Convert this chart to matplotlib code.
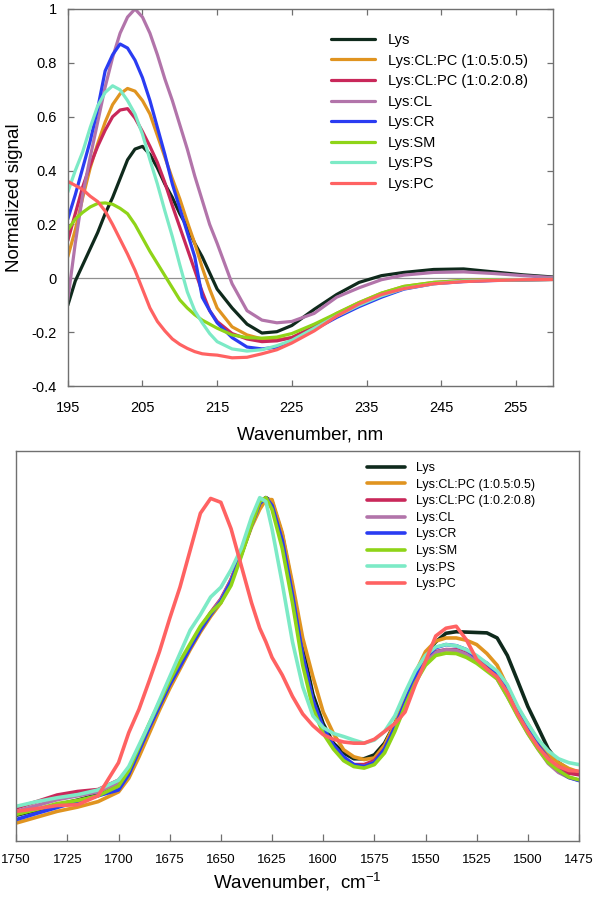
import numpy as np
import matplotlib
matplotlib.use('Agg')
import matplotlib.pyplot as plt

plt.rcParams['font.family'] = ['Liberation Sans', 'DejaVu Sans']
plt.rcParams['mathtext.default'] = 'regular'

labels = ['Lys', 'Lys:CL:PC (1:0.5:0.5)', 'Lys:CL:PC (1:0.2:0.8)', 'Lys:CL',
          'Lys:CR', 'Lys:SM', 'Lys:PS', 'Lys:PC']
colors = ['#0f2a1c', '#e09420', '#c9285a', '#b274aa',
          '#2a3cf2', '#8fd418', '#7ceac6', '#ff6262']

# --- CD spectra (top) ---
cd_nm = [195, 196, 197, 198, 199, 200, 201, 202, 203, 204, 205, 206, 207, 208, 209, 210,
         211, 212, 213, 214, 215, 217, 219, 221, 223, 225, 228, 231, 234, 237, 240,
         244, 248, 252, 256, 260]
cd_lys = [-0.10, -0.01, 0.05, 0.11, 0.17, 0.24, 0.30, 0.37, 0.44, 0.48, 0.49, 0.46, 0.41,
          0.35, 0.30, 0.24, 0.19, 0.13, 0.08, 0.02, -0.04, -0.11, -0.17, -0.203, -0.198,
          -0.175, -0.115, -0.06, -0.015, 0.01, 0.022, 0.033, 0.035, 0.024, 0.013, 0.005]
cd_clpc_55 = [0.08, 0.18, 0.30, 0.41, 0.50, 0.58, 0.645, 0.685, 0.705, 0.695, 0.66, 0.61,
              0.53, 0.45, 0.37, 0.295, 0.21, 0.13, 0.04, -0.04, -0.11, -0.18, -0.21, -0.225,
              -0.228, -0.22, -0.18, -0.13, -0.09, -0.055, -0.03, -0.015, -0.008, -0.006,
              -0.005, -0.004]
cd_clpc_28 = [0.14, 0.24, 0.34, 0.42, 0.49, 0.55, 0.60, 0.625, 0.63, 0.595, 0.545, 0.49,
              0.43, 0.355, 0.27, 0.19, 0.11, 0.03, -0.05, -0.12, -0.16, -0.205, -0.225,
              -0.235, -0.232, -0.22, -0.18, -0.135, -0.095, -0.06, -0.035, -0.018, -0.01,
              -0.007, -0.005, -0.004]
cd_cl = [-0.08, 0.13, 0.31, 0.45, 0.58, 0.71, 0.82, 0.91, 0.97, 1.0, 0.97, 0.91, 0.83,
         0.74, 0.66, 0.57, 0.48, 0.38, 0.29, 0.20, 0.13, -0.02, -0.12, -0.155, -0.165,
         -0.16, -0.13, -0.07, -0.035, -0.005, 0.012, 0.022, 0.024, 0.018, 0.01, 0.003]
cd_cr = [0.22, 0.31, 0.41, 0.51, 0.63, 0.77, 0.83, 0.87, 0.855, 0.81, 0.745, 0.66, 0.56,
         0.46, 0.35, 0.26, 0.17, 0.08, -0.07, -0.12, -0.165, -0.22, -0.255, -0.262,
         -0.255, -0.235, -0.19, -0.145, -0.105, -0.07, -0.04, -0.02, -0.012, -0.008,
         -0.006, -0.004]
cd_sm = [0.18, 0.22, 0.245, 0.265, 0.278, 0.28, 0.275, 0.26, 0.24, 0.20, 0.15, 0.10,
         0.055, 0.01, -0.035, -0.08, -0.11, -0.135, -0.155, -0.17, -0.185, -0.21, -0.22,
         -0.222, -0.218, -0.205, -0.17, -0.13, -0.09, -0.055, -0.03, -0.015, -0.008,
         -0.006, -0.005, -0.004]
cd_ps = [0.32, 0.40, 0.47, 0.56, 0.64, 0.69, 0.715, 0.70, 0.66, 0.61, 0.535, 0.44, 0.35,
         0.25, 0.155, 0.05, -0.05, -0.12, -0.165, -0.205, -0.235, -0.262, -0.27, -0.265,
         -0.25, -0.23, -0.185, -0.14, -0.10, -0.065, -0.038, -0.02, -0.01, -0.007,
         -0.005, -0.004]
cd_pc = [0.36, 0.345, 0.33, 0.305, 0.285, 0.25, 0.20, 0.145, 0.09, 0.03, -0.04, -0.11,
         -0.16, -0.195, -0.225, -0.245, -0.26, -0.272, -0.28, -0.283, -0.285, -0.295,
         -0.293, -0.28, -0.265, -0.24, -0.195, -0.14, -0.095, -0.06, -0.038, -0.02,
         -0.012, -0.008, -0.005, -0.004]

# --- IR amide I / II (bottom), normalised to axes height ---
ir_cm = [1750, 1740, 1730, 1720, 1710, 1700, 1695, 1690, 1685, 1680, 1675, 1670, 1665,
         1660, 1655, 1650, 1645, 1640, 1635, 1631, 1628, 1625, 1620, 1615, 1610, 1605,
         1600, 1595, 1590, 1585, 1580, 1575, 1570, 1565, 1560, 1555, 1550, 1545, 1540,
         1535, 1530, 1525, 1520, 1515, 1510, 1505, 1500, 1495, 1490, 1485, 1480, 1475]
ir_lys = [0.065, 0.078, 0.092, 0.104, 0.118, 0.14, 0.175, 0.23, 0.29, 0.345, 0.40, 0.447,
          0.495, 0.54, 0.58, 0.615, 0.665, 0.735, 0.81, 0.865, 0.88, 0.87, 0.785, 0.65,
          0.495, 0.375, 0.30, 0.25, 0.225, 0.21, 0.21, 0.22, 0.25, 0.30, 0.36, 0.425,
          0.48, 0.51, 0.532, 0.536, 0.535, 0.534, 0.533, 0.52, 0.475, 0.41, 0.344, 0.29,
          0.235, 0.20, 0.182, 0.175]
ir_clpc_55 = [0.045, 0.06, 0.075, 0.086, 0.10, 0.125, 0.16, 0.215, 0.275, 0.335, 0.39,
              0.44, 0.49, 0.535, 0.575, 0.61, 0.67, 0.735, 0.805, 0.85, 0.875, 0.875, 0.79,
              0.66, 0.52, 0.42, 0.33, 0.275, 0.233, 0.215, 0.208, 0.212, 0.245, 0.30, 0.36,
              0.43, 0.485, 0.512, 0.52, 0.52, 0.514, 0.503, 0.48, 0.45, 0.395, 0.34, 0.30,
              0.255, 0.22, 0.20, 0.185, 0.176]
ir_clpc_28 = [0.084, 0.10, 0.117, 0.126, 0.131, 0.155, 0.185, 0.235, 0.295, 0.35, 0.405,
              0.455, 0.50, 0.545, 0.585, 0.62, 0.67, 0.74, 0.815, 0.87, 0.88, 0.855, 0.765,
              0.625, 0.47, 0.355, 0.285, 0.24, 0.21, 0.195, 0.195, 0.205, 0.235, 0.29, 0.35,
              0.415, 0.46, 0.485, 0.49, 0.49, 0.48, 0.465, 0.445, 0.42, 0.375, 0.33, 0.28,
              0.24, 0.205, 0.185, 0.173, 0.169]
ir_cl = [0.075, 0.09, 0.105, 0.115, 0.125, 0.148, 0.18, 0.232, 0.292, 0.348, 0.403, 0.452,
         0.498, 0.543, 0.583, 0.618, 0.668, 0.738, 0.812, 0.868, 0.88, 0.857, 0.767, 0.628,
         0.472, 0.357, 0.286, 0.24, 0.208, 0.192, 0.19, 0.2, 0.232, 0.288, 0.35, 0.413,
         0.458, 0.483, 0.49, 0.488, 0.478, 0.462, 0.44, 0.415, 0.37, 0.322, 0.275, 0.235,
         0.198, 0.175, 0.162, 0.155]
ir_cr = [0.054, 0.07, 0.085, 0.10, 0.115, 0.13, 0.17, 0.23, 0.29, 0.345, 0.40, 0.447,
         0.495, 0.54, 0.58, 0.615, 0.665, 0.735, 0.81, 0.865, 0.88, 0.86, 0.77, 0.63,
         0.475, 0.36, 0.29, 0.245, 0.215, 0.195, 0.19, 0.20, 0.235, 0.29, 0.355, 0.42,
         0.47, 0.495, 0.503, 0.50, 0.49, 0.47, 0.455, 0.43, 0.385, 0.335, 0.285, 0.245,
         0.21, 0.18, 0.162, 0.154]
ir_sm = [0.067, 0.08, 0.095, 0.103, 0.115, 0.14, 0.18, 0.24, 0.30, 0.355, 0.41, 0.46,
         0.505, 0.55, 0.585, 0.61, 0.655, 0.73, 0.81, 0.87, 0.88, 0.85, 0.75, 0.61, 0.45,
         0.34, 0.275, 0.235, 0.205, 0.19, 0.186, 0.195, 0.225, 0.28, 0.345, 0.405, 0.45,
         0.475, 0.481, 0.48, 0.47, 0.455, 0.435, 0.415, 0.37, 0.32, 0.275, 0.235, 0.20,
         0.18, 0.163, 0.156]
ir_ps = [0.088, 0.10, 0.11, 0.118, 0.13, 0.155, 0.19, 0.245, 0.30, 0.36, 0.42, 0.48, 0.54,
         0.58, 0.625, 0.65, 0.695, 0.75, 0.83, 0.88, 0.87, 0.80, 0.66, 0.51, 0.395, 0.32,
         0.29, 0.275, 0.267, 0.258, 0.25, 0.258, 0.28, 0.32, 0.38, 0.435, 0.475, 0.497,
         0.503, 0.50, 0.49, 0.475, 0.455, 0.435, 0.40, 0.345, 0.30, 0.26, 0.23, 0.21,
         0.20, 0.195]
ir_pc = [0.075, 0.082, 0.09, 0.092, 0.115, 0.20, 0.277, 0.337, 0.41, 0.485, 0.57, 0.65,
         0.745, 0.84, 0.878, 0.868, 0.80, 0.705, 0.61, 0.545, 0.51, 0.47, 0.425, 0.37,
         0.325, 0.295, 0.272, 0.26, 0.253, 0.25, 0.25, 0.26, 0.28, 0.30, 0.33, 0.40, 0.46,
         0.525, 0.545, 0.55, 0.515, 0.465, 0.44, 0.42, 0.38, 0.325, 0.28, 0.24, 0.21,
         0.19, 0.18, 0.178]

cd_series = [cd_lys, cd_clpc_55, cd_clpc_28, cd_cl, cd_cr, cd_sm, cd_ps, cd_pc]
ir_series = [ir_lys, ir_clpc_55, ir_clpc_28, ir_cl, ir_cr, ir_sm, ir_ps, ir_pc]

fig = plt.figure(figsize=(6, 9), dpi=100)
spine_col = '#707070'

# top panel
ax1 = fig.add_axes([0.113, 0.571, 0.809, 0.419])
ax1.axhline(0, color='#909090', lw=0.9, zorder=1)
for y, lab, c in zip(cd_series, labels, colors):
    ax1.plot(cd_nm, y, color=c, lw=2.3, label=lab, solid_capstyle='round',
             solid_joinstyle='round', zorder=2)
ax1.set_xlim(195, 260)
ax1.set_ylim(-0.4, 1.0)
ax1.set_xticks([195, 205, 215, 225, 235, 245, 255])
ax1.set_yticks([-0.4, -0.2, 0, 0.2, 0.4, 0.6, 0.8, 1.0])
ax1.set_yticklabels(['-0.4', '-0.2', '0', '0.2', '0.4', '0.6', '0.8', '1'])
ax1.tick_params(direction='in', top=True, right=True, length=4, width=0.9,
                color=spine_col, labelsize=10.5)
ax1.tick_params(axis='x', pad=11)
ax1.tick_params(axis='y', pad=8)
ax1.set_xlabel('Wavenumber, nm', fontsize=13.5, labelpad=8)
ax1.set_ylabel('Normalized signal', fontsize=13.5, labelpad=6)
for s in ax1.spines.values():
    s.set_color(spine_col)
    s.set_linewidth(1.0)
ax1.legend(loc='upper left', bbox_to_anchor=(331 / 600, 1 - 33 / 900),
           bbox_transform=fig.transFigure, frameon=False, fontsize=10.5,
           handlelength=3.0, handletextpad=0.9, labelspacing=0.45,
           borderpad=0, borderaxespad=0)

# bottom panel
ax2 = fig.add_axes([0.027, 0.066, 0.938, 0.433])
for y, lab, c in zip(ir_series, labels, colors):
    ax2.plot(ir_cm, y, color=c, lw=2.6, label=lab, solid_capstyle='round',
             solid_joinstyle='round')
ax2.set_xlim(1750, 1475)
ax2.set_ylim(0, 1)
ax2.set_xticks(list(range(1750, 1474, -25)))
ax2.set_yticks([])
ax2.tick_params(axis='x', direction='in', length=5, width=0.9, color=spine_col,
                labelsize=9.5, pad=10)
ax2.set_xlabel('Wavenumber,  cm$^{-1}$', fontsize=13.5, labelpad=3)
for s in ax2.spines.values():
    s.set_color(spine_col)
    s.set_linewidth(1.0)
ax2.legend(loc='upper left', bbox_to_anchor=(367 / 600, 1 - 462 / 900),
           bbox_transform=fig.transFigure, frameon=False, fontsize=9,
           handlelength=3.0, handletextpad=0.9, labelspacing=0.37,
           borderpad=0, borderaxespad=0)

fig.savefig('out.png', dpi=100)
